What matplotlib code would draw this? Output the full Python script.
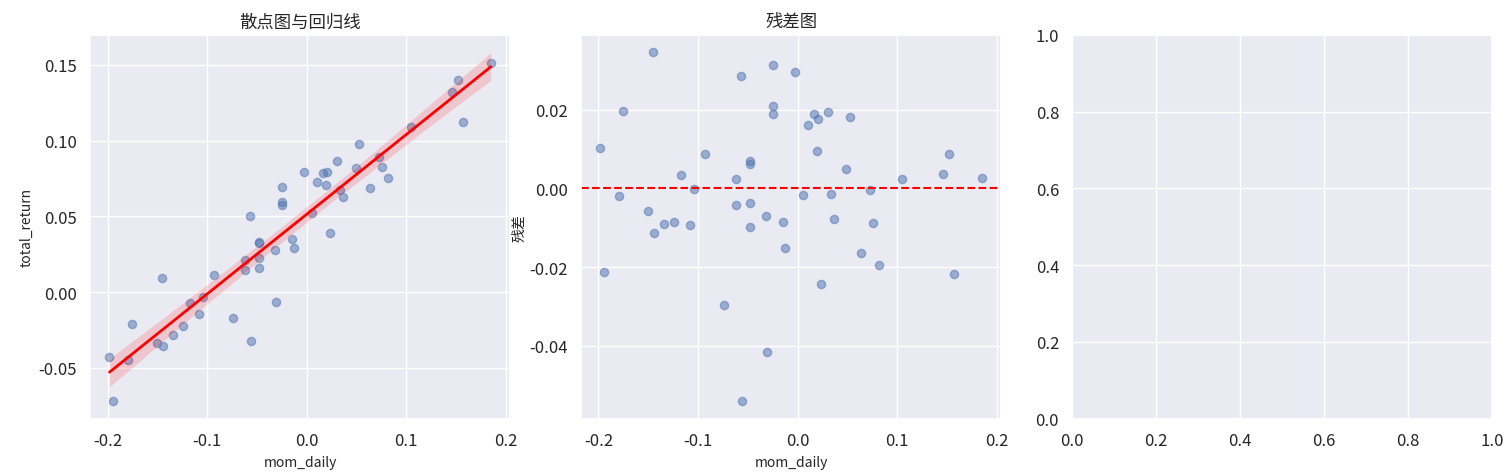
import numpy as np
import matplotlib
matplotlib.use("Agg")
import matplotlib.pyplot as plt
import seaborn as sns

mom_daily = [-0.145, -0.025, -0.057, -0.003, -0.175, -0.025, -0.025, 0.016, 0.020, 0.030,
             0.010, 0.053, -0.198, -0.093, -0.048, -0.048, 0.019, 0.152, 0.049, -0.117,
             -0.062, 0.105, 0.146, 0.185, -0.104, -0.179, 0.005, 0.033, 0.073, -0.150,
             -0.062, -0.048, -0.134, -0.124, -0.108, -0.144, -0.048, -0.032, -0.015, 0.036,
             0.076, -0.013, 0.064, 0.082, -0.194, 0.157, 0.023, -0.074, -0.031, -0.056]
total_return = [0.0096, 0.0696, 0.0499, 0.0794, -0.0212, 0.0592, 0.0572, 0.0786, 0.0794, 0.0865,
                0.0727, 0.0975, -0.0427, 0.0111, 0.0330, 0.0322, 0.0708, 0.1400, 0.0820, -0.0069,
                0.0211, 0.1090, 0.1318, 0.1514, -0.0035, -0.0448, 0.0522, 0.0674, 0.0893, -0.0333,
                0.0145, 0.0223, -0.0282, -0.0225, -0.0147, -0.0358, 0.0162, 0.0275, 0.0350, 0.0625,
                0.0826, 0.0294, 0.0687, 0.0750, -0.0721, 0.1123, 0.0392, -0.0171, -0.0064, -0.0322]

sns.set_theme(style="darkgrid")
plt.rcParams['font.family'] = ['Noto Sans CJK SC', 'DejaVu Sans']
plt.rcParams['axes.unicode_minus'] = False

x = np.array(mom_daily)
y = np.array(total_return)
b, a = np.polyfit(x, y, 1)
resid = y - (a + b * x)

fig, axes = plt.subplots(1, 3, figsize=(15.07, 4.77), dpi=100)
ax = axes[0]
sns.regplot(x=x, y=y, ax=ax, scatter_kws={'alpha': 0.5, 's': 35},
            line_kws={'color': 'red', 'lw': 2})
ax.set_title('散点图与回归线', fontsize=12.5)
ax.set_xlabel('mom_daily', fontsize=10)
ax.set_ylabel('total_return', fontsize=10)

ax = axes[1]
ax.scatter(x, resid, alpha=0.5, s=35)
ax.axhline(0, color='red', ls='--', lw=1.5)
ax.set_title('残差图', fontsize=12.5)
ax.set_xlabel('mom_daily', fontsize=10)
ax.set_ylabel('残差', fontsize=10, labelpad=2)

for ax in axes:
    ax.tick_params(labelsize=12)

fig.subplots_adjust(left=0.06, right=0.99, bottom=0.12, top=0.925, wspace=0.17)
fig.savefig('out.png', dpi=100)
